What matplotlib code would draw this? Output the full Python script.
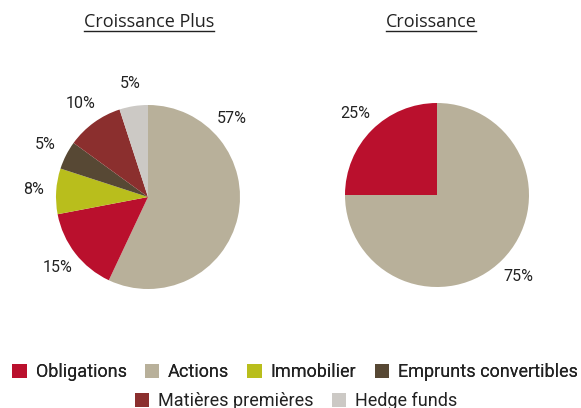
import matplotlib
matplotlib.use("Agg")
import numpy as np
import matplotlib.pyplot as plt
from matplotlib.patches import Patch
from matplotlib.lines import Line2D

categories = ["Obligations", "Actions", "Immobilier", "Emprunts convertibles",
              "Matières premières", "Hedge funds"]
colors = ["#BA102D", "#B8B09A", "#B9BE1C", "#574834", "#8B2F2E", "#CCC9C5"]

# pie order (clockwise from top)
left_title = "Croissance Plus"
left_cats = ["Actions", "Obligations", "Immobilier", "Emprunts convertibles",
             "Matières premières", "Hedge funds"]
left_vals = [57, 15, 8, 5, 10, 5]

right_title = "Croissance"
right_cats = ["Actions", "Obligations"]
right_vals = [75, 25]

W, H = 581, 408
fig = plt.figure(figsize=(W / 100, H / 100), dpi=100)
fig.patch.set_facecolor("white")

label_font = "Roboto"
title_font = "Open Sans"
text_color = "#222222"
cmap = dict(zip(categories, colors))

R = 92
L = 1.5
LABEL_R = 1.25


def make_pie(cx, cy, cats, vals, big_label_angle=None):
    side = 2 * L * R
    ax = fig.add_axes([(cx - side / 2) / W, (H - cy - side / 2) / H, side / W, side / H])
    wedges, _ = ax.pie(vals, colors=[cmap[c] for c in cats], startangle=90,
                       counterclock=False, wedgeprops=dict(linewidth=0))
    total = float(sum(vals))
    for w, v in zip(wedges, vals):
        ang = np.deg2rad((w.theta1 + w.theta2) / 2)
        if big_label_angle is not None and v / total > 0.5:
            ang = np.deg2rad(big_label_angle)
        ax.text(LABEL_R * np.cos(ang), LABEL_R * np.sin(ang), f"{100 * v / total:.0f}%",
                ha="center", va="center", fontsize=11.5, family=label_font,
                color=text_color)
    ax.set_xlim(-L, L)
    ax.set_ylim(-L, L)
    ax.set_aspect("equal")
    ax.axis("off")
    return ax


make_pie(148, 197, left_cats, left_vals, big_label_angle=43)
make_pie(437, 195, right_cats, right_vals)

titles = []
for (tx, txt) in [(149, left_title), (431, right_title)]:
    t = fig.text(tx / W, 1 - 22 / H, txt, ha="center", va="center",
                 fontsize=13, family=title_font, color=text_color)
    titles.append(t)

# legends
common = dict(frameon=False, prop=dict(family=label_font, size=13),
              handlelength=0.8, handleheight=0.8, handletextpad=0.5,
              columnspacing=1.0, labelcolor=text_color, borderpad=0, borderaxespad=0)
h1 = [Patch(facecolor=cmap[c], edgecolor="none") for c in categories[:4]]
leg1 = fig.legend(h1, categories[:4], loc="center", bbox_to_anchor=(295 / W, 1 - 372 / H),
                  ncol=4, **common)
h2 = [Patch(facecolor=cmap[c], edgecolor="none") for c in categories[4:]]
leg2 = fig.legend(h2, categories[4:], loc="center", bbox_to_anchor=(296 / W, 1 - 401 / H),
                  ncol=2, **common)
fig.add_artist(leg1)

fig.canvas.draw()
r = fig.canvas.get_renderer()
for t in titles:
    bb = t.get_window_extent(renderer=r)
    y = bb.y0
    fig.add_artist(Line2D([bb.x0 / W, bb.x1 / W], [y / H, y / H], color=text_color,
                          linewidth=1.0, transform=fig.transFigure))

fig.savefig("out.png", dpi=100)
